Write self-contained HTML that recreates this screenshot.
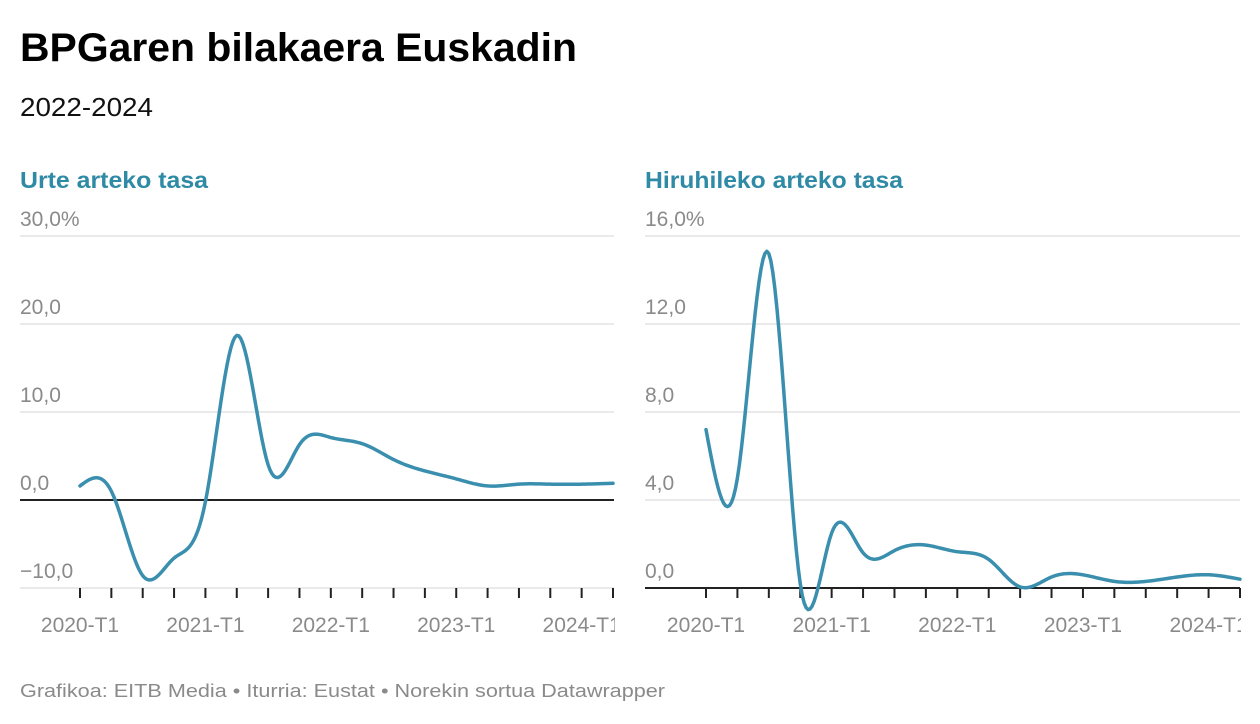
<!DOCTYPE html>
<html><head><meta charset="utf-8"><style>
html,body{margin:0;padding:0;background:#fff;}
svg{display:block;font-family:"Liberation Sans",sans-serif;}
</style></head><body>
<svg id="c" width="1260" height="724" viewBox="0 0 1260 724">
<text x="20" y="61" font-size="40" font-weight="bold" fill="#000" textLength="557" lengthAdjust="spacingAndGlyphs">BPGaren bilakaera Euskadin</text>
<text x="20" y="116" font-size="26" fill="#111" textLength="133" lengthAdjust="spacingAndGlyphs">2022-2024</text>
<text x="20" y="188" font-size="23" font-weight="bold" fill="#2f8aa5" textLength="188" lengthAdjust="spacingAndGlyphs">Urte arteko tasa</text>
<text x="645" y="188" font-size="23" font-weight="bold" fill="#2f8aa5" textLength="258" lengthAdjust="spacingAndGlyphs">Hiruhileko arteko tasa</text>
<text x="20" y="697" font-size="18" fill="#8a8a8a" textLength="645" lengthAdjust="spacingAndGlyphs">Grafikoa: EITB Media • Iturria: Eustat • Norekin sortua Datawrapper</text>
<g id="left"></g>
<g id="right"></g>
</svg>
<script>
const categories = ["2020-T1","2020-T2","2020-T3","2020-T4","2021-T1","2021-T2","2021-T3","2021-T4","2022-T1","2022-T2","2022-T3","2022-T4","2023-T1","2023-T2","2023-T3","2023-T4","2024-T1","2024-T2"];
const xTickLabels = ["2020-T1","2021-T1","2022-T1","2023-T1","2024-T1"];
const yoyValues = [1.6, 1.0, -8.6, -6.6, -0.2, 18.7, 4.0, 6.3, 7.1, 6.4, 4.6, 3.3, 2.4, 1.6, 1.8, 1.8, 1.8, 1.9];
const yoyTicks = [30, 20, 10, 0, -10];
const qoqValues = [7.2, 5.0, 15.2, 0.2, 2.5, 1.6, 1.7, 1.95, 1.65, 1.3, 0.05, 0.5, 0.6, 0.3, 0.3, 0.5, 0.6, 0.4];
const qoqTicks = [16, 12, 8, 4, 0];
const NS = "http://www.w3.org/2000/svg";

function mk(tag, attrs, parent){
  const e = document.createElementNS(NS, tag);
  for (const k in attrs) e.setAttribute(k, attrs[k]);
  parent.appendChild(e);
  return e;
}
function fmt(v){ return (v<0?"\u2212":"") + Math.abs(v).toFixed(1).replace(".", ","); }

function natural(xs, ys){
  const n = xs.length, h=[], a=ys.slice(), al=[0], l=[1], mu=[0], z=[0], c=new Array(n).fill(0), b=[], d=[];
  for(let i=0;i<n-1;i++) h[i]=xs[i+1]-xs[i];
  for(let i=1;i<n-1;i++) al[i]=3/h[i]*(a[i+1]-a[i])-3/h[i-1]*(a[i]-a[i-1]);
  for(let i=1;i<n-1;i++){ l[i]=2*(xs[i+1]-xs[i-1])-h[i-1]*mu[i-1]; mu[i]=h[i]/l[i]; z[i]=(al[i]-h[i-1]*z[i-1])/l[i]; }
  for(let j=n-2;j>=0;j--){ c[j]=(j<n-2||true)?((j===n-2?0:0)+ (z[j]-mu[j]*c[j+1])):0; b[j]=(a[j+1]-a[j])/h[j]-h[j]*(c[j+1]+2*c[j])/3; d[j]=(c[j+1]-c[j])/(3*h[j]); }
  c[0]=0;
  let p = "M"+xs[0]+","+ys[0];
  for(let i=0;i<n-1;i++){
    for(let s=1;s<=16;s++){
      const t=h[i]*s/16;
      p += " L"+(xs[i]+t).toFixed(2)+","+(a[i]+b[i]*t+c[i]*t*t+d[i]*t*t*t).toFixed(2);
    }
  }
  return p;
}

function panel(g, prefix, vals, ticks, yMin, yMax, gx0, gx1, x0, x1, unitLast){
  const yTop=236, yBot=588;
  const ys = v => yTop + (yMax - v)/(yMax - yMin)*(yBot - yTop);
  const xs = i => x0 + i*(x1 - x0)/(categories.length-1);
  ticks.forEach((t,i)=>{
    const ln = mk("line",{x1:gx0,x2:gx1,y1:ys(t),y2:ys(t),stroke:"#e3e3e3","stroke-width":1.5},g);
    
    
    const tx = mk("text",{x:gx0,y:ys(t)-10,"font-size":21,fill:"#8a8a8a"},g);
    tx.textContent = fmt(t) + (i===0?"%":"");
    
    
  });
  const zl = mk("line",{x1:gx0,x2:gx1,y1:ys(0),y2:ys(0),stroke:"#222","stroke-width":2},g);
  
  
  categories.forEach((c,i)=>{
    const tk = mk("line",{x1:xs(i),x2:xs(i),y1:yBot,y2:yBot+10,stroke:"#222","stroke-width":2},g);
    
    
    if (xTickLabels.indexOf(c)>=0){
      const tx = mk("text",{x:xs(i),y:632,"font-size":21,fill:"#8a8a8a","text-anchor":"middle"},g);
      tx.textContent = c;
      
      
    }
  });
  const px = vals.map((v,i)=>xs(i)), py = vals.map(v=>ys(v));
  const line = mk("path",{d:natural(px,py),fill:"none",stroke:"#3a8fae","stroke-width":3.5,"stroke-linejoin":"round","stroke-linecap":"round"},g);
  
  
  // clip labels overflowing right edge
  const cover = mk("rect",{x:gx1+1,y:600,width:30,height:45,fill:"#fff"},g);
  
  
}
panel(document.getElementById("left"), "left", yoyValues, yoyTicks, -10, 30, 20, 614, 80, 613);
panel(document.getElementById("right"), "right", qoqValues, qoqTicks, 0, 16, 645, 1240, 706, 1240);
</script>
</body></html>
